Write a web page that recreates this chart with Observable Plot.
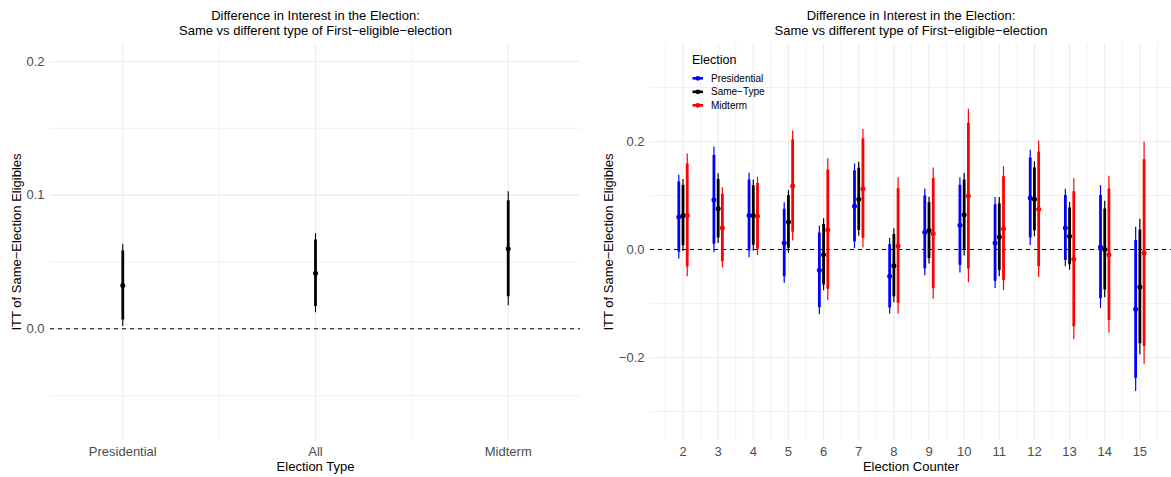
<!DOCTYPE html>
<html><head><meta charset="utf-8">
<script src="https://cdn.jsdelivr.net/npm/d3@7"></script>
<script src="https://cdn.jsdelivr.net/npm/@observablehq/plot@0.6"></script>
<style>
body{margin:0;background:#fff;font-family:"Liberation Sans",Arial,sans-serif;}
#wrap{position:relative;width:1171px;height:477px;display:flex;overflow:hidden;}
#legend{position:absolute;left:0;top:0;pointer-events:none;}
</style></head><body>
<div id="wrap"><div id="left"></div><div id="right"></div><svg id="legend" width="1171" height="477"></svg></div>
<script>
// ---------- data ----------
const titleLines = ["Difference in Interest in the Election:", "Same vs different type of First\u2212eligible\u2212election"];
const yTitle = "ITT of Same\u2212Election Eligibles";

// left panel
const typeCategories = ["Presidential", "All", "Midterm"];
const typeEstimates = [0.0324, 0.0416, 0.0599];
const typeSE = [0.0157, 0.0151, 0.0218];
const leftMajorY = [0, 0.1, 0.2];
const leftMinorY = [-0.05, 0.05, 0.15];

// right panel
const counters = [2, 3, 4, 5, 6, 7, 8, 9, 10, 11, 12, 13, 14, 15];
const seriesNames = ["Presidential", "Same\u2212Type", "Midterm"];
const seriesColors = ["#0000FF", "#000000", "#FF0000"];
const presEst = [0.060, 0.092, 0.063, 0.012, -0.0386, 0.080, -0.0497, 0.0318, 0.0448, 0.012, 0.0954, 0.0398, 0.0046, -0.1108];
const presSE  = [0.0395, 0.050, 0.040, 0.038, 0.042, 0.040, 0.0357, 0.041, 0.045, 0.043, 0.045, 0.0366, 0.058, 0.0776];
const sameEst = [0.063, 0.0756, 0.063, 0.051, -0.0096, 0.093, -0.030, 0.035, 0.0645, 0.023, 0.0929, 0.0244, 0.0, -0.0694];
const sameSE  = [0.034, 0.033, 0.0336, 0.0296, 0.034, 0.035, 0.035, 0.0315, 0.039, 0.0375, 0.0354, 0.032, 0.0456, 0.064];
const midEst  = [0.063, 0.040, 0.0614, 0.1176, 0.0367, 0.1127, 0.0065, 0.0293, 0.099, 0.0386, 0.0744, -0.018, -0.0096, -0.0065];
const midSE   = [0.058, 0.038, 0.037, 0.052, 0.067, 0.056, 0.0645, 0.062, 0.082, 0.0585, 0.0645, 0.076, 0.074, 0.105];
const rightMajorY = [-0.2, 0, 0.2];
const rightMinorY = [-0.3, -0.1, 0.1, 0.3];

const z95 = 1.96, z90 = 1.645;
const gridColor = "#EBEBEB";
const fmt = d3.format(".1f");

function titleMarks(xLabel, yDx) {
  return [
    Plot.text([titleLines[0]], {frameAnchor: "top", dy: -28, text: d => d, fill: "black", fontSize: 13, lineAnchor: "middle", textAnchor: "middle"}),
    Plot.text([titleLines[1]], {frameAnchor: "top", dy: -13, text: d => d, fill: "black", fontSize: 13, lineAnchor: "middle", textAnchor: "middle"}),
    Plot.text([xLabel], {frameAnchor: "bottom", dy: 26.5, text: d => d, fill: "black", fontSize: 13, lineAnchor: "middle", textAnchor: "middle"}),
    Plot.text([yTitle], {frameAnchor: "left", dx: yDx, rotate: -90, text: d => d, fill: "black", fontSize: 13, lineAnchor: "middle", textAnchor: "middle"}),
  ];
}

// ---------- left ----------
const leftData = typeCategories.map((c, i) => ({cat: c, pos: i + 1, est: typeEstimates[i], se: typeSE[i]}));
const leftPos = leftData.map(d => d.pos);
const leftMinorX = leftPos.slice(1).map(p => p - 0.5);

const left = Plot.plot({
  width: 590, height: 477,
  marginLeft: 50, marginRight: 10, marginTop: 43, marginBottom: 37,
  style: {fontFamily: "'Liberation Sans', Arial, sans-serif", fontSize: "13px", color: "#4D4D4D", background: "white", overflow: "visible"},
  x: {domain: [0.625, 3.375], axis: null},
  y: {domain: [-0.0836, 0.2135], axis: null},
  marks: [
    Plot.ruleY(leftMinorY, {stroke: gridColor, strokeWidth: 0.7}),
    Plot.ruleX(leftMinorX, {stroke: gridColor, strokeWidth: 0.7}),
    Plot.ruleY(leftMajorY, {stroke: gridColor, strokeWidth: 1.1}),
    Plot.ruleX(leftPos, {stroke: gridColor, strokeWidth: 1.1}),
    Plot.axisY({ticks: leftMajorY, tickSize: 0, tickPadding: 6, tickFormat: fmt, label: null, fontSize: 13}),
    Plot.axisX({ticks: leftPos, tickSize: 0, tickPadding: 6, tickFormat: p => typeCategories[p - 1], label: null, fontSize: 13}),
    Plot.ruleY([0], {stroke: "black", strokeWidth: 1, strokeDasharray: "4,4"}),
    Plot.ruleX(leftData, {x: "pos", y1: d => d.est - z95 * d.se, y2: d => d.est + z95 * d.se, stroke: "black", strokeWidth: 1.1}),
    Plot.ruleX(leftData, {x: "pos", y1: d => d.est - z90 * d.se, y2: d => d.est + z90 * d.se, stroke: "black", strokeWidth: 2.8}),
    Plot.dot(leftData, {x: "pos", y: "est", r: 2.5, fill: "black", stroke: "none"}),
    ...titleMarks("Election Type", -34)
  ]
});
document.getElementById("left").appendChild(left);

// ---------- right ----------
const seriesEst = [presEst, sameEst, midEst];
const seriesSE = [presSE, sameSE, midSE];
const dodge = 0.12;
const rightData = [];
seriesNames.forEach((s, k) => {
  counters.forEach((c, i) => {
    rightData.push({series: s, color: seriesColors[k], counter: c, x: c + (k - 1) * dodge, est: seriesEst[k][i], se: seriesSE[k][i]});
  });
});
const rightMinorX = [counters[0] - 0.5, ...counters.map(c => c + 0.5)];

const right = Plot.plot({
  width: 581, height: 477,
  marginLeft: 60, marginRight: 0, marginTop: 43, marginBottom: 37,
  style: {fontFamily: "'Liberation Sans', Arial, sans-serif", fontSize: "13px", color: "#4D4D4D", background: "white", overflow: "visible"},
  x: {domain: [1.075, 15.9], axis: null},
  y: {domain: [-0.3537, 0.3815], axis: null},
  marks: [
    Plot.ruleY(rightMinorY, {stroke: gridColor, strokeWidth: 0.7}),
    Plot.ruleX(rightMinorX, {stroke: gridColor, strokeWidth: 0.7}),
    Plot.ruleY(rightMajorY, {stroke: gridColor, strokeWidth: 1.1}),
    Plot.ruleX(counters, {stroke: gridColor, strokeWidth: 1.1}),
    Plot.axisY({ticks: rightMajorY, tickSize: 0, tickPadding: 6, tickFormat: fmt, label: null, fontSize: 13}),
    Plot.axisX({ticks: counters, tickSize: 0, tickPadding: 6, tickFormat: d => String(d), label: null, fontSize: 13}),
    Plot.ruleY([0], {stroke: "black", strokeWidth: 1, strokeDasharray: "4,4"}),
    Plot.ruleX(rightData, {x: "x", y1: d => d.est - z95 * d.se, y2: d => d.est + z95 * d.se, stroke: "color", strokeWidth: 1.2}),
    Plot.ruleX(rightData, {x: "x", y1: d => d.est - z90 * d.se, y2: d => d.est + z90 * d.se, stroke: "color", strokeWidth: 2.8}),
    Plot.dot(rightData, {x: "x", y: "est", r: 2.5, fill: "color", stroke: "none"}),
    ...titleMarks("Election Counter", -42)
  ]
});
document.getElementById("right").appendChild(right);

// ---------- legend ----------
const lg = d3.select("#legend").attr("font-family", "'Liberation Sans', Arial, sans-serif");
lg.append("text").attr("x", 692).attr("y", 60).attr("dy", "0.35em").attr("font-size", 12.5).attr("fill", "black").text("Election");
seriesNames.forEach((s, k) => {
  const y = 78.3 + k * 13.5;
  lg.append("line").attr("x1", 692.5).attr("x2", 703).attr("y1", y).attr("y2", y).attr("stroke", seriesColors[k]).attr("stroke-width", 2.6);
  lg.append("circle").attr("cx", 697.8).attr("cy", y).attr("r", 2.4).attr("fill", seriesColors[k]);
  lg.append("text").attr("x", 711).attr("y", y).attr("dy", "0.35em").attr("font-size", 10).attr("fill", "black").text(s);
});
</script>
</body></html>
